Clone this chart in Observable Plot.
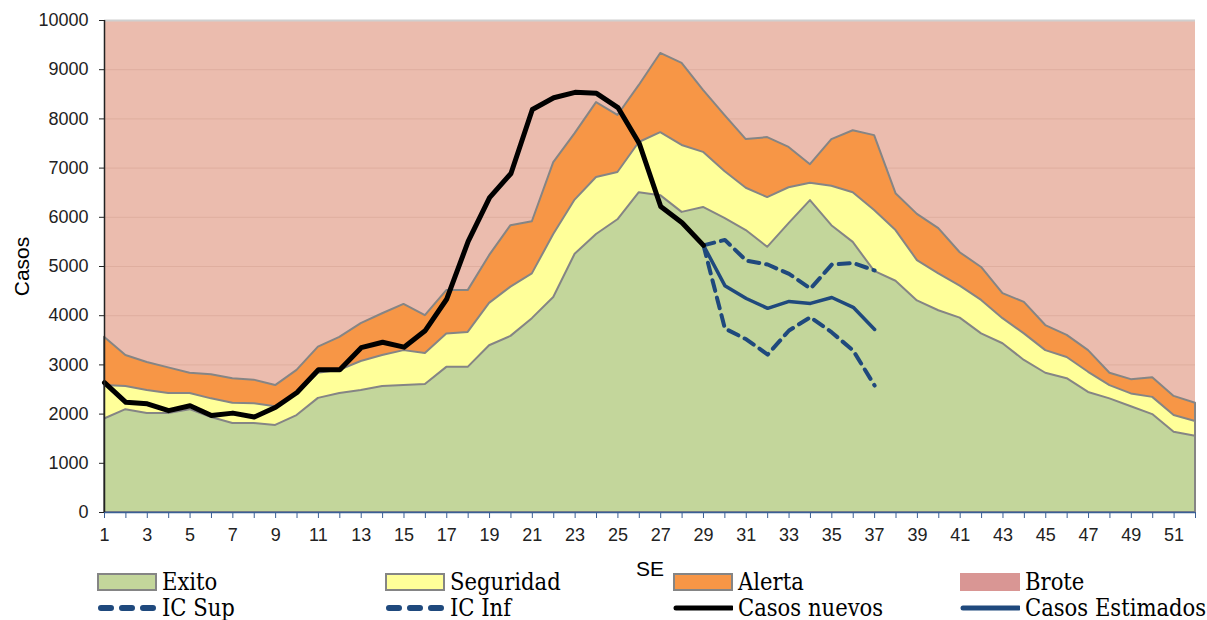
<!DOCTYPE html>
<html><head><meta charset="utf-8">
<script src="https://cdn.jsdelivr.net/npm/d3@7"></script>
<script src="https://cdn.jsdelivr.net/npm/@observablehq/plot@0.6"></script>
<style>
body{margin:0;background:#fff;font-family:"Liberation Sans",Arial,sans-serif;}
#chart{position:relative;width:1207px;}
#chart svg text{font-family:"Liberation Sans",Arial,sans-serif;}
.legend{position:relative;height:60px;margin-top:-30px;width:1207px;}
.item{position:absolute;display:flex;align-items:center;height:24px;font-family:"DejaVu Serif Condensed","DejaVu Serif",serif;font-size:23.5px;color:#000;white-space:nowrap;}
.item svg{margin-right:5px;flex:none;}
</style></head><body>
<div id="chart"></div>
<div class="legend" id="legend"></div>
<script>
// ---- data ----
const weeks = [1,2,3,4,5,6,7,8,9,10,11,12,13,14,15,16,17,18,19,20,21,22,23,24,25,26,27,28,29,30,31,32,33,34,35,36,37,38,39,40,41,42,43,44,45,46,47,48,49,50,51,52];
const exito = [1900,2090,2010,2010,2090,1930,1810,1810,1770,1970,2320,2420,2480,2560,2580,2600,2950,2950,3390,3580,3940,4370,5250,5650,5950,6500,6440,6100,6200,5980,5730,5390,5870,6340,5830,5490,4900,4700,4300,4100,3950,3630,3430,3090,2830,2720,2440,2310,2150,1990,1630,1550];
const seguridad = [2580,2560,2480,2420,2420,2310,2220,2210,2150,2410,2830,2890,3070,3190,3290,3230,3630,3660,4250,4580,4850,5650,6350,6810,6910,7520,7720,7460,7320,6930,6590,6400,6600,6690,6630,6500,6140,5730,5120,4850,4600,4310,3940,3630,3290,3150,2850,2580,2410,2340,1970,1850];
const alerta = [3560,3190,3050,2940,2830,2800,2720,2690,2580,2890,3360,3560,3840,4040,4230,4000,4510,4510,5220,5830,5910,7110,7700,8330,8070,8680,9330,9130,8580,8070,7580,7620,7420,7070,7580,7760,7660,6480,6060,5770,5280,4980,4450,4270,3800,3600,3290,2830,2700,2740,2360,2220];
const broteMax = 10000;
const nuevosWeeks = [1,2,3,4,5,6,7,8,9,10,11,12,13,14,15,16,17,18,19,20,21,22,23,24,25,26,27,28,29];
const casosNuevos = [2640,2240,2210,2070,2170,1970,2020,1940,2140,2440,2900,2900,3350,3460,3360,3700,4340,5510,6400,6890,8190,8430,8540,8520,8230,7500,6220,5890,5430];
const estWeeks = [29,30,31,32,33,34,35,36,37];
const casosEstimados = [5430,4610,4350,4150,4290,4250,4370,4170,3720];
const icSup = [5430,5540,5120,5040,4850,4550,5040,5070,4920];
const icInf = [5430,3740,3520,3210,3700,3970,3660,3290,2580];
const yTicks = [0,1000,2000,3000,4000,5000,6000,7000,8000,9000,10000];
const legendLabels = ["Exito","Seguridad","Alerta","Brote","IC Sup","IC Inf","Casos nuevos","Casos Estimados"];

// ---- styles ----
const C = {brote:"#EBBCAE", broteKey:"#D99694", alerta:"#F79646", seguridad:"#FFFF99", exito:"#C3D69B",
  edge:"#858585", blue:"#1F497D", axisBlue:"#3A5F95", grid:"#DFAE9F"};

const areaData = weeks.map((w,i)=>({week:w, exito:exito[i], seguridad:seguridad[i], alerta:alerta[i]}));
const nuevosData = nuevosWeeks.map((w,i)=>({week:w, v:casosNuevos[i]}));
const estData = estWeeks.map((w,i)=>({week:w, est:casosEstimados[i], sup:icSup[i], inf:icInf[i]}));

const plot = Plot.plot({
  width:1207, height:590, marginTop:20, marginBottom:78, marginLeft:104, marginRight:12,
  x:{domain:[1,52]}, y:{domain:[0,broteMax]},
  style:{fontFamily:"'Liberation Sans', Arial, sans-serif", fontSize:"18px", color:"#222", background:"transparent", overflow:"visible"},
  marks:[
    Plot.areaY(weeks,{x:d=>d, y1:0, y2:broteMax, fill:C.brote}),
    Plot.ruleY(yTicks.filter(t=>t>0 && t<broteMax),{stroke:C.grid, strokeWidth:1}),
    Plot.ruleY([broteMax],{stroke:"#CFCFCF", strokeWidth:2}),
    Plot.areaY(areaData,{x:"week", y1:0, y2:"alerta", fill:C.alerta, stroke:C.edge, strokeWidth:2}),
    Plot.areaY(areaData,{x:"week", y1:0, y2:"seguridad", fill:C.seguridad, stroke:C.edge, strokeWidth:2}),
    Plot.areaY(areaData,{x:"week", y1:0, y2:"exito", fill:C.exito, stroke:C.edge, strokeWidth:2}),
    Plot.lineY(estData,{x:"week", y:"sup", stroke:C.blue, strokeWidth:4, strokeDasharray:"11,7"}),
    Plot.lineY(estData,{x:"week", y:"inf", stroke:C.blue, strokeWidth:4, strokeDasharray:"11,7"}),
    Plot.lineY(estData,{x:"week", y:"est", stroke:C.blue, strokeWidth:3.5}),
    Plot.lineY(nuevosData,{x:"week", y:"v", stroke:"#000", strokeWidth:5, strokeLinejoin:"round"}),
    Plot.ruleY([0],{stroke:C.axisBlue, strokeWidth:1.5}),
    Plot.ruleX([1],{y1:0, y2:broteMax, stroke:"#222", strokeWidth:1.5}),
    Plot.axisX({ticks:weeks, tickFormat:d=>d%2===1?String(d):"", tickSize:6, tickPadding:10, stroke:C.axisBlue, fill:"#222", label:null}),
    Plot.axisY({ticks:yTicks, tickFormat:d=>String(d), tickSize:5, tickPadding:11, stroke:"#222", fill:"#222", label:null}),
    Plot.text(["Casos"],{text:d=>d, frameAnchor:"left", textAnchor:"middle", rotate:-90, dx:-82, fontSize:21, fill:"#000"}),
    Plot.text(["SE"],{text:d=>d, frameAnchor:"bottom", textAnchor:"middle", dy:63, fontSize:21, fill:"#000"})
  ]
});
document.getElementById("chart").appendChild(plot);

// ---- legend ----
const colX = [97,385,673,960];
const rowY = [22,48];
const keys = [
  {t:"area", fill:C.exito}, {t:"area", fill:C.seguridad}, {t:"area", fill:C.alerta}, {t:"plain", fill:C.broteKey},
  {t:"dash", stroke:C.blue}, {t:"dash", stroke:C.blue}, {t:"line", stroke:"#000"}, {t:"line", stroke:C.blue}
];
const leg = document.getElementById("legend");
legendLabels.forEach((lab,i)=>{
  const k = keys[i];
  const div = document.createElement("div");
  div.className = "item";
  div.style.left = colX[i%4] + "px";
  div.style.top = (rowY[Math.floor(i/4)] - 12) + "px";
  let sw = "";
  if (k.t==="area") sw = `<rect x="1" y="4" width="58" height="16" fill="${k.fill}" stroke="${C.edge}" stroke-width="2"/>`;
  else if (k.t==="plain") sw = `<rect x="0" y="3" width="60" height="18" fill="${k.fill}"/>`;
  else if (k.t==="dash") sw = `<line x1="4" y1="12" x2="58" y2="12" stroke="${k.stroke}" stroke-width="6" stroke-linecap="round" stroke-dasharray="10,11"/>`;
  else sw = `<line x1="3" y1="12" x2="59" y2="12" stroke="${k.stroke}" stroke-width="5" stroke-linecap="round"/>`;
  div.innerHTML = `<svg width="60" height="24">${sw}</svg><span>${lab}</span>`;
  leg.appendChild(div);
});
</script>
</body></html>
